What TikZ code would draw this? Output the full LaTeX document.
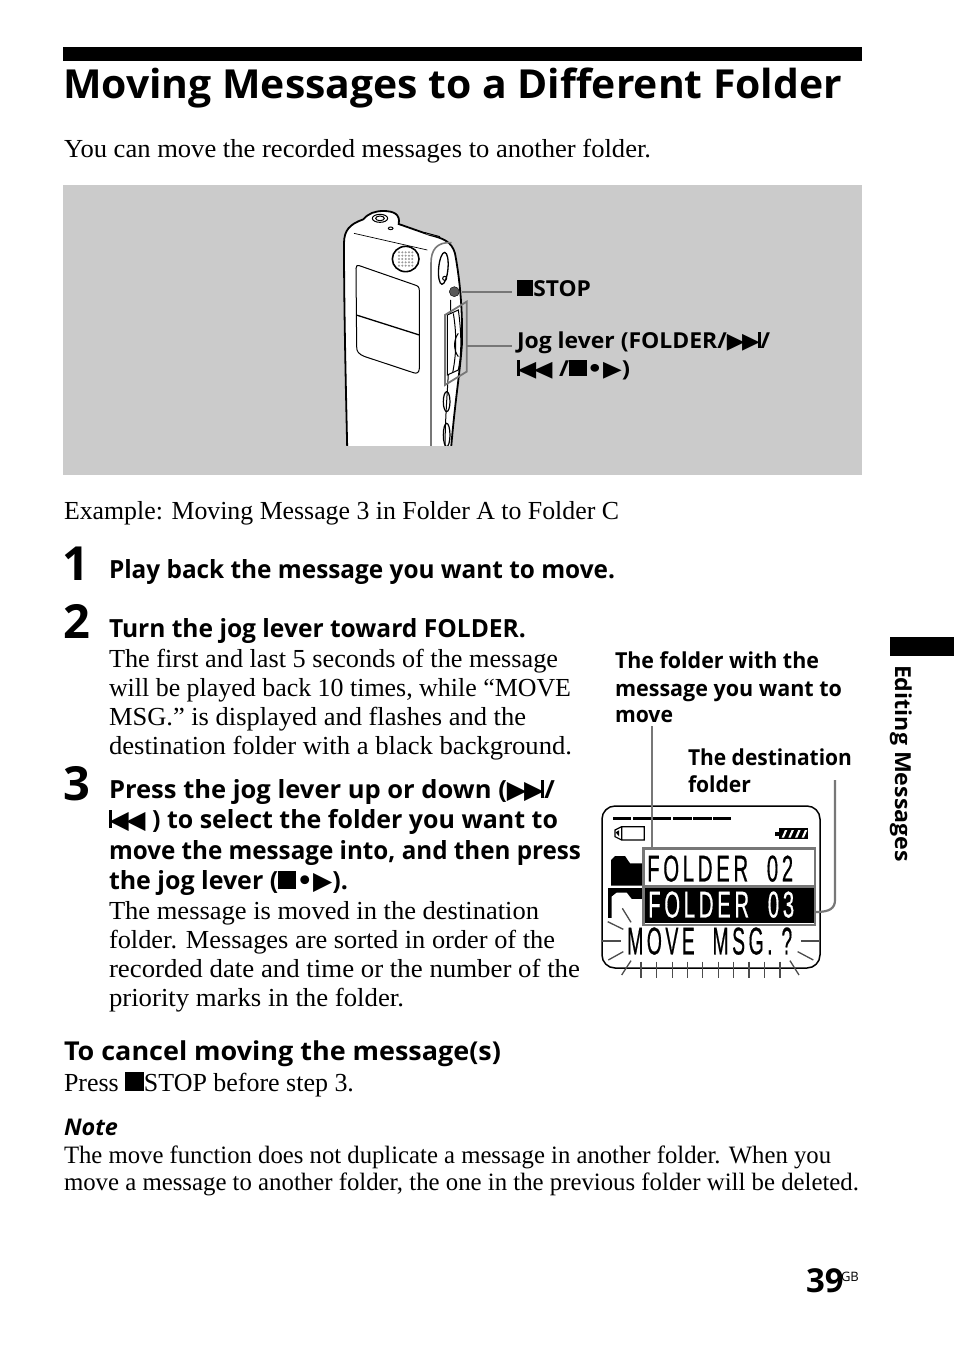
\documentclass[tikz,border=0pt]{standalone}
\usepackage{fontspec}
\usepackage{graphicx}
\setmainfont{Liberation Serif}
\newfontfamily\hd[BoldFont={Open Sans Bold},BoldItalicFont={Open Sans Bold Italic}]{Open Sans}
\newfontfamily\symf{DejaVu Sans}
\newfontfamily\lcd[LetterSpace=18,FakeBold=0.6]{Liberation Sans}
\newcommand\stopsq{\rule{.72em}{.72em}}
\newcommand\trir{{\symf ▶}}
\newcommand\tril{{\symf ◀}}
\newcommand\nextic{\trir\kern-.1em\trir\kern-.1em\rule{.13em}{.74em}}
\newcommand\previc{\rule{.13em}{.74em}\kern-.1em\tril\kern-.1em\tril}
\newcommand\playic{\stopsq{\symf\kern.02em•\kern.02em}\trir}
\newcommand\body{\fontsize{26}{29}\selectfont}
\newcommand\bsf{\fontsize{25}{30}\selectfont\hd\bfseries}
\newcommand\lab{\fontsize{22}{27}\selectfont\hd\bfseries}
\newcommand\foot{\fontsize{25}{27}\selectfont}
% name, x, baseline, width, font, text
\newcommand\tline[6]{\node[txt] (#1) at (#2,#3) {\resizebox{#4pt}{\height}{#5\relax#6}};}
\tikzset{
  txt/.style={anchor=base west,inner sep=0pt,outer sep=0pt,black},
  leader/.style={draw=leadgray,line width=2.2pt},
  ray/.style={draw=black!70,line width=1.3pt},
  dev/.style={draw=black,line width=1pt},
}
\definecolor{panel}{HTML}{CBCBCB}
\definecolor{leadgray}{HTML}{777777}
\begin{document}
\begin{tikzpicture}[x=1pt,y=-1pt]
\useasboundingbox (0,0) rectangle (954,1345);
\fill[white] (0,0) rectangle (954,1345);
\fill[black] (63,47) rectangle (862,61);
\fill[panel] (63,185) rectangle (862,475);
\fill[black] (890,637) rectangle (954,656);
\tline{title}{63}{98}{779}{\fontsize{40}{44}\selectfont\hd\bfseries}{Moving Messages to a Different Folder}
\tline{intro}{64}{157}{587}{\body}{You can move the recorded messages to another folder.}

% recorder
\begin{scope}[shift={(330,200)},x=.3333pt,y=-.3333pt]
  \clip (0,0) rectangle (450,737);
  \fill[white] (52,760) .. controls (46,500) and (42,300) .. (42,130) .. controls (42,90) and (60,72) .. (100,58) .. controls (115,40) and (135,33) .. (160,33) .. controls (190,33) and (212,42) .. (206,72) -- (300,105) .. controls (340,115) and (365,125) .. (375,160) .. controls (390,240) and (398,330) .. (396,430) .. controls (390,520) and (375,600) .. (362,760) -- cycle;
  \draw[black,line width=1.8pt] (52,760) .. controls (46,500) and (42,300) .. (42,130) .. controls (42,90) and (60,72) .. (100,58) .. controls (115,40) and (135,33) .. (160,33) .. controls (190,33) and (212,42) .. (206,72) -- (300,105) .. controls (340,115) and (365,125) .. (375,160) .. controls (390,240) and (398,330) .. (396,430) .. controls (390,520) and (375,600) .. (362,760);
  \draw[dev,line width=.7pt] (72,100) -- (292,150);
  \draw[dev] (150,55) ellipse [x radius=23,y radius=12];
  \draw[dev] (150,55) ellipse [x radius=13,y radius=7];
  \draw[dev] (182,85) ellipse [x radius=7,y radius=4];
  \fill[panel] (290,96) -- (330,104) -- (328,110) -- (288,102) -- cycle;
  \draw[dev] (285,98) -- (330,110);
  \draw[dev,line width=1.6pt,fill=white] (227,177) ellipse [x radius=40,y radius=38];
  \foreach \dx in {-20,-10,...,20} \foreach \dy in {-20,-10,...,20}
    \fill[black!40] (227+\dx,177+\dy) circle (1.1pt);
  \draw[dev] (88,197) -- (255,255) .. controls (265,258) and (268,262) .. (268,272) -- (268,505) .. controls (268,518) and (260,522) .. (250,518) -- (105,470) .. controls (85,462) and (80,455) .. (80,440) -- (78,205) .. controls (78,197) and (82,195) .. (88,197) -- cycle;
  \draw[black,line width=1.3pt] (79,345) -- (268,405);
  \draw[leadgray,line width=1.6pt] (303,760) -- (303,190) .. controls (303,150) and (320,125) .. (365,128);
  \draw[dev] (345,760) .. controls (345,600) and (360,540) .. (362,300);
  \draw[dev,line width=1.3pt,rotate around={-5:(340,205)}] (340,205) ellipse [x radius=14,y radius=48];
  \draw[dev] (344,235) circle (6);
  \fill[black!65,draw=black] (373,275) circle (15);
  \draw[dev,fill=white] (352,345) -- (385,330) .. controls (395,400) and (395,460) .. (385,510) -- (352,525) -- cycle;
  \draw[dev] (370,340) .. controls (380,400) and (380,460) .. (368,518);
  \draw[dev] (385,400) .. controls (370,420) and (370,450) .. (385,470);
  \draw[leadgray,line width=1.8pt] (345,345) -- (410,305) -- (410,515) -- (345,555) -- cycle;
  \draw[dev,line width=1.2pt] (350,605) ellipse [x radius=10,y radius=30];
  \draw[dev,line width=1.2pt] (350,705) ellipse [x radius=10,y radius=35];
\end{scope}
\coordinate (stopdev) at (462,292);
\coordinate (jogdev) at (467,346);
\tline{stoplab}{517}{296}{74}{\lab}{\stopsq STOP}
\tline{joga}{517}{348}{253}{\lab}{Jog lever (FOLDER/\nextic/}
\tline{jogb}{517}{376}{113}{\lab}{\previc\ /\playic)}
\coordinate (stopend) at (512,292);
\coordinate (jogend) at (512,346);
\draw[leader] (stopdev) -- (stopend);
\draw[leader] (jogdev) -- (jogend);

\tline{example}{64}{519}{555}{\body}{Example: Moving Message 3 in Folder A to Folder C}
\node[txt] (one) at (62,580) {\fontsize{47}{47}\selectfont\hd\bfseries 1};
\node[txt] (two) at (63,638) {\fontsize{47}{47}\selectfont\hd\bfseries 2};
\node[txt] (three) at (63,800) {\fontsize{47}{47}\selectfont\hd\bfseries 3};
\tline{s1}{109}{578}{506}{\bsf}{Play back the message you want to move.}
\tline{s2}{109}{637}{417}{\bsf}{Turn the jog lever toward FOLDER.}
\tline{s2a}{109}{667}{449}{\body}{The first and last 5 seconds of the message}
\tline{s2b}{109}{696}{462}{\body}{will be played back 10 times, while “MOVE}
\tline{s2c}{109}{725}{417}{\body}{MSG.” is displayed and flashes and the}
\tline{s2d}{109}{754}{463}{\body}{destination folder with a black background.}
\tline{s3a}{109}{798}{446}{\bsf}{Press the jog lever up or down (\nextic/}
\tline{s3b}{109}{828}{449}{\bsf}{\previc\ ) to select the folder you want to}
\tline{s3c}{109}{859}{472}{\bsf}{move the message into, and then press}
\tline{s3d}{109}{889}{239}{\bsf}{the jog lever (\playic).}
\tline{s3e}{109}{919}{430}{\body}{The message is moved in the destination}
\tline{s3f}{109}{948}{446}{\body}{folder. Messages are sorted in order of the}
\tline{s3g}{109}{977}{471}{\body}{recorded date and time or the number of the}
\tline{s3h}{109}{1006}{295}{\body}{priority marks in the folder.}
\tline{cancel}{64}{1060}{437}{\fontsize{26}{30}\selectfont\hd\bfseries}{To cancel moving the message(s)}
\tline{press}{64}{1091}{290}{\body}{Press \stopsq STOP before step 3.}
\tline{note}{64}{1135}{54}{\fontsize{23}{27}\selectfont\hd\bfseries\itshape}{Note}
\tline{na}{64}{1163}{767}{\foot}{The move function does not duplicate a message in another folder. When you}
\tline{nb}{64}{1190}{795}{\foot}{move a message to another folder, the one in the previous folder will be deleted.}

\tline{fa}{615}{668}{204}{\lab}{The folder with the}
\tline{fb}{615}{696}{227}{\lab}{message you want to}
\tline{fc}{615}{722}{58}{\lab}{move}
\tline{da}{688}{765}{164}{\lab}{The destination}
\tline{db}{688}{792}{63}{\lab}{folder}

% LCD
\draw[black,line width=1.5pt,rounded corners=13pt,fill=white] (602,806) rectangle (820,968);
\begin{scope}[shift={(595,795)},x=.3333pt,y=-.3333pt]
  \foreach \a/\b in {55/108,115/170,175/228,235/290,295/350,355/408}
    \fill[black] (\a,67) rectangle (\b,75);
  \draw[black,line width=1.2pt] (148,95) rectangle (80,135) -- (60,125) -- (60,105) -- (80,95);
  \fill[black] (62,112) -- (72,106) -- (72,124) -- cycle;
  \fill[black] (540,110) rectangle (555,122);
  \fill[black] (552,100) rectangle (640,132);
  \foreach \s in {560,580,600,620}
    \fill[white] (\s,128) -- (\s+7,128) -- (\s+17,105) -- (\s+10,105) -- cycle;
  \fill[black] (48,272) -- (48,195) -- (60,183) -- (90,183) -- (105,205) -- (145,205) -- (145,272) -- cycle;
  \fill[black] (40,278) rectangle (145,370);
  \fill[white] (50,370) -- (50,305) -- (65,293) -- (95,293) -- (110,312) -- (145,312) -- (145,370) -- cycle;
  \fill[black] (145,278) rectangle (657,385);
  \draw[leadgray,line width=2.5pt] (145,160) rectangle (660,390);
  \draw[leadgray,line width=2.5pt] (145,274) -- (660,274);
  \foreach \ax/\ay/\bx/\by in {22/438/78/438, 38/380/85/403, 40/495/85/470, 80/540/108/497, 82/340/108/382, 618/438/672/438, 608/470/655/495, 585/497/612/540}
    \draw[ray] (\ax,\ay) -- (\bx,\by);
  \foreach \tx in {138,185,232,277,323,370,415,462,508,555}
    \draw[ray] (\tx,500) -- (\tx,550);
\end{scope}
\node[anchor=south west,inner sep=0pt] (f2) at (647,882) {\resizebox{146pt}{26pt}{\lcd FOLDER\ \ 02}};
\node[anchor=south west,inner sep=0pt,text=white] (f3) at (648,918) {\resizebox{146pt}{26pt}{\lcd FOLDER\ \ 03}};
\node[anchor=south west,inner sep=0pt] (mv) at (627,955) {\resizebox{165pt}{27pt}{\lcd MOVE\ \ MSG.\ ?}};
\coordinate (fl1) at (652,726);
\coordinate (fl2) at (652,848);
\coordinate (dl1) at (835,780);
\coordinate (dl2) at (816,912);
\draw[leader] (fl1) -- (fl2);
\draw[leader] (dl1) -- (835,900) .. controls (835,908) and (830,912) .. (dl2);

\node[txt,rotate=-90] (side) at (895,665) {\resizebox{197pt}{\height}{\fontsize{22}{26}\selectfont\hd\bfseries Editing Messages}};
\node[txt] (pg) at (806,1292) {\fontsize{33}{36}\selectfont\hd\bfseries 39};
\node[txt] (gb) at (841,1281) {\fontsize{13}{15}\selectfont\hd GB};
\end{tikzpicture}
\end{document}
